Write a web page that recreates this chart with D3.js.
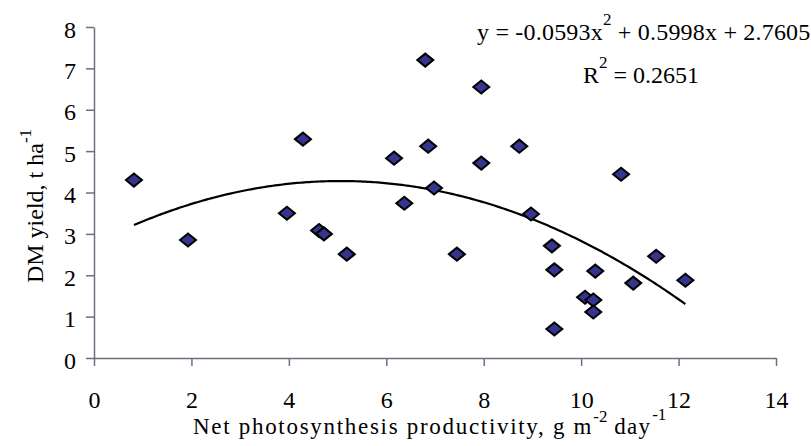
<!DOCTYPE html>
<html>
<head>
<meta charset="utf-8">
<script src="https://cdnjs.cloudflare.com/ajax/libs/d3/7.8.5/d3.min.js"></script>
<style>
body{margin:0;background:#fff}
svg text{font-family:"Liberation Serif","Times New Roman",serif;fill:#000}
.axis path,.axis line{stroke:#6e6e80;stroke-width:1.5}
</style>
</head>
<body>
<div id="chart"></div>
<script>
// net photosynthesis productivity (x) vs DM yield (y)
var npp = [0.82,1.93,3.96,4.29,4.62,4.72,5.19,6.16,6.80,6.86,6.98,6.37,7.45,7.95,7.95,8.73,8.97,9.40,9.45,9.45,10.29,10.08,10.25,10.25,11.07,11.54,12.14,10.82]
var dmYield = [4.30,2.85,3.50,5.29,3.08,3.00,2.51,4.83,7.20,5.12,4.11,3.74,2.51,6.55,4.71,5.12,3.48,2.71,2.13,0.70,2.10,1.47,1.40,1.11,1.81,2.46,1.88,4.44]
var xTicks = [0,2,4,6,8,10,12,14]
var yTicks = [0,1,2,3,4,5,6,7,8]
// polynomial trendline y = a x^2 + b x + c (as printed on the chart)
var trendCoef = [-0.0593,0.5998,2.7605]
var rSquared = "0.2651"

function drawChart(){
    var width = 811, height = 446
    var left = 94, right = 776, top = 27, bottom = 358

    var svg = d3.select("#chart").append("svg").attr("width",width).attr("height",height)

    var x = d3.scaleLinear().domain([0,14]).range([left,right])
    var y = d3.scaleLinear().domain([0,8]).range([bottom,top])

    var yAxis = d3.axisLeft(y).tickValues(yTicks).tickSize(8).tickSizeOuter(0).tickPadding(10)
    var gy = svg.append("g").attr("class","axis").attr("transform","translate("+left+",0)").call(yAxis)
    gy.selectAll("text").attr("font-size",24).attr("dy","0.42em")

    var xAxis = d3.axisBottom(x).tickValues(xTicks).tickSize(8).tickSizeOuter(0).tickPadding(25)
    var gx = svg.append("g").attr("class","axis").attr("transform","translate(0,"+bottom+")").call(xAxis)
    gx.selectAll("text").attr("font-size",24)

    // trendline over the data range
    var xs = d3.range(d3.min(npp),d3.max(npp),0.05).concat([d3.max(npp)])
    var line = d3.line()
        .x(function(d){return x(d)})
        .y(function(d){return y(trendCoef[0]*d*d+trendCoef[1]*d+trendCoef[2])})
    svg.append("path")
        .datum(xs)
        .attr("d",line)
        .attr("fill","none")
        .attr("stroke","#000")
        .attr("stroke-width",2.2)

    // diamond markers
    var hw = 8, hh = 6.5
    svg.selectAll(".pt")
        .data(npp)
        .enter()
        .append("path")
        .attr("class","pt")
        .attr("d",function(d,i){
            var cx = x(d), cy = y(dmYield[i])
            return "M"+(cx-hw)+","+cy+"L"+cx+","+(cy-hh)+"L"+(cx+hw)+","+cy+"L"+cx+","+(cy+hh)+"Z"
        })
        .attr("fill","#35358f")
        .attr("stroke","#000")
        .attr("stroke-width",2)

    // equation and R^2
    var eq = svg.append("text").attr("x",477).attr("y",40).attr("font-size",24).attr("letter-spacing",0.2)
    eq.append("tspan").text("y = -0.0593x")
    eq.append("tspan").attr("dy",-15).attr("font-size",17).text("2")
    eq.append("tspan").attr("dy",15).text(" + 0.5998x + 2.7605")

    var r2 = svg.append("text").attr("x",583).attr("y",83).attr("font-size",24)
    r2.append("tspan").text("R")
    r2.append("tspan").attr("dy",-15).attr("font-size",17).text("2")
    r2.append("tspan").attr("dy",15).text(" = "+rSquared)

    // axis titles
    var xt = svg.append("text").attr("x",193).attr("y",434).attr("font-size",23)
    xt.append("tspan").attr("letter-spacing",1.7).text("Net photosynthesis productivity, g m")
    xt.append("tspan").attr("dy",-12).attr("font-size",17).text("-2")
    xt.append("tspan").attr("dy",12).attr("letter-spacing",1.2).text(" day")
    xt.append("tspan").attr("dy",-14).attr("dx",1).attr("font-size",17).text("-1")

    var yt = svg.append("text")
        .attr("transform","translate(43,206) rotate(-90)")
        .attr("text-anchor","middle")
        .attr("font-size",24)
    yt.append("tspan").text("DM yield, t ha")
    yt.append("tspan").attr("dy",-12).attr("font-size",17).text("-1")
}
drawChart()
</script>
</body>
</html>
